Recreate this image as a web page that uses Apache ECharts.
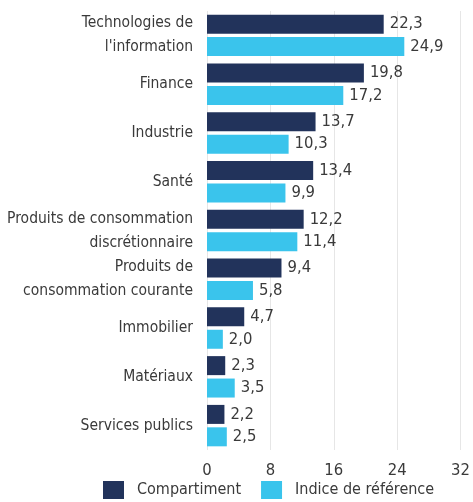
<!DOCTYPE html>
<html>
<head>
<meta charset="utf-8">
<script src="https://cdn.jsdelivr.net/npm/echarts@6/dist/echarts.min.js"></script>
<style>
  html, body { margin: 0; padding: 0; background: #fff; }
  #chart { width: 473px; height: 502px; }
</style>
</head>
<body>
<div id="chart"></div>
<script>
const categories = [
  "Technologies de\nl'information",
  'Finance',
  'Industrie',
  'Santé',
  'Produits de consommation\ndiscrétionnaire',
  'Produits de\nconsommation courante',
  'Immobilier',
  'Matériaux',
  'Services publics'
];
const compartiment = [22.3, 19.8, 13.7, 13.4, 12.2, 9.4, 4.7, 2.3, 2.2];
const indice = [24.9, 17.2, 10.3, 9.9, 11.4, 5.8, 2.0, 3.5, 2.5];
const xTicks = [0, 8, 16, 24, 32];

const FONT = '"Liberation Sans Narrow", "DejaVu Sans Condensed", sans-serif';
const TEXT = '#3a3a3a';

const chart = echarts.init(document.getElementById('chart'));

const fmt = v => v.toFixed(1).replace('.', ',');

chart.setOption({
  backgroundColor: '#fff',
  animation: false,
  textStyle: { fontFamily: FONT },
  legend: {
    data: ['Compartiment', 'Indice de référence'],
    bottom: -2,
    left: 98,
    itemWidth: 21,
    itemHeight: 18,
    itemGap: 20,
    icon: 'rect',
    textStyle: { color: TEXT, fontSize: 16, fontFamily: FONT, padding: [0, 0, 0, 8] }
  },
  grid: {
    left: 207,
    right: 9,
    top: 11,
    bottom: 52,
    containLabel: false
  },
  xAxis: {
    type: 'value',
    min: 0,
    max: 32,
    interval: 8,
    axisLine: { show: false },
    axisTick: { show: false },
    axisLabel: {
      color: TEXT,
      fontSize: 16.5,
      fontFamily: FONT,
      margin: 12,
      formatter: v => (xTicks.includes(v) ? String(v) : '')
    },
    splitLine: { lineStyle: { color: '#e6e6e6', width: 1 } }
  },
  yAxis: {
    type: 'category',
    data: categories,
    inverse: true,
    axisLine: { show: false },
    axisTick: { show: false },
    axisLabel: {
      color: TEXT,
      fontSize: 15.5,
      lineHeight: 24,
      fontFamily: FONT,
      margin: 14,
      align: 'right'
    }
  },
  series: [
    {
      name: 'Compartiment',
      type: 'bar',
      data: compartiment,
      barWidth: 19,
      barGap: '18%',
      itemStyle: { color: '#22335b' },
      label: {
        show: true,
        position: 'right',
        distance: 6,
        color: TEXT,
        fontSize: 16.5,
        fontFamily: FONT,
        formatter: p => fmt(p.value)
      }
    },
    {
      name: 'Indice de référence',
      type: 'bar',
      data: indice,
      barWidth: 19,
      itemStyle: { color: '#3ac4ec' },
      label: {
        show: true,
        position: 'right',
        distance: 6,
        color: TEXT,
        fontSize: 16.5,
        fontFamily: FONT,
        formatter: p => fmt(p.value)
      }
    }
  ]
});
</script>
</body>
</html>
